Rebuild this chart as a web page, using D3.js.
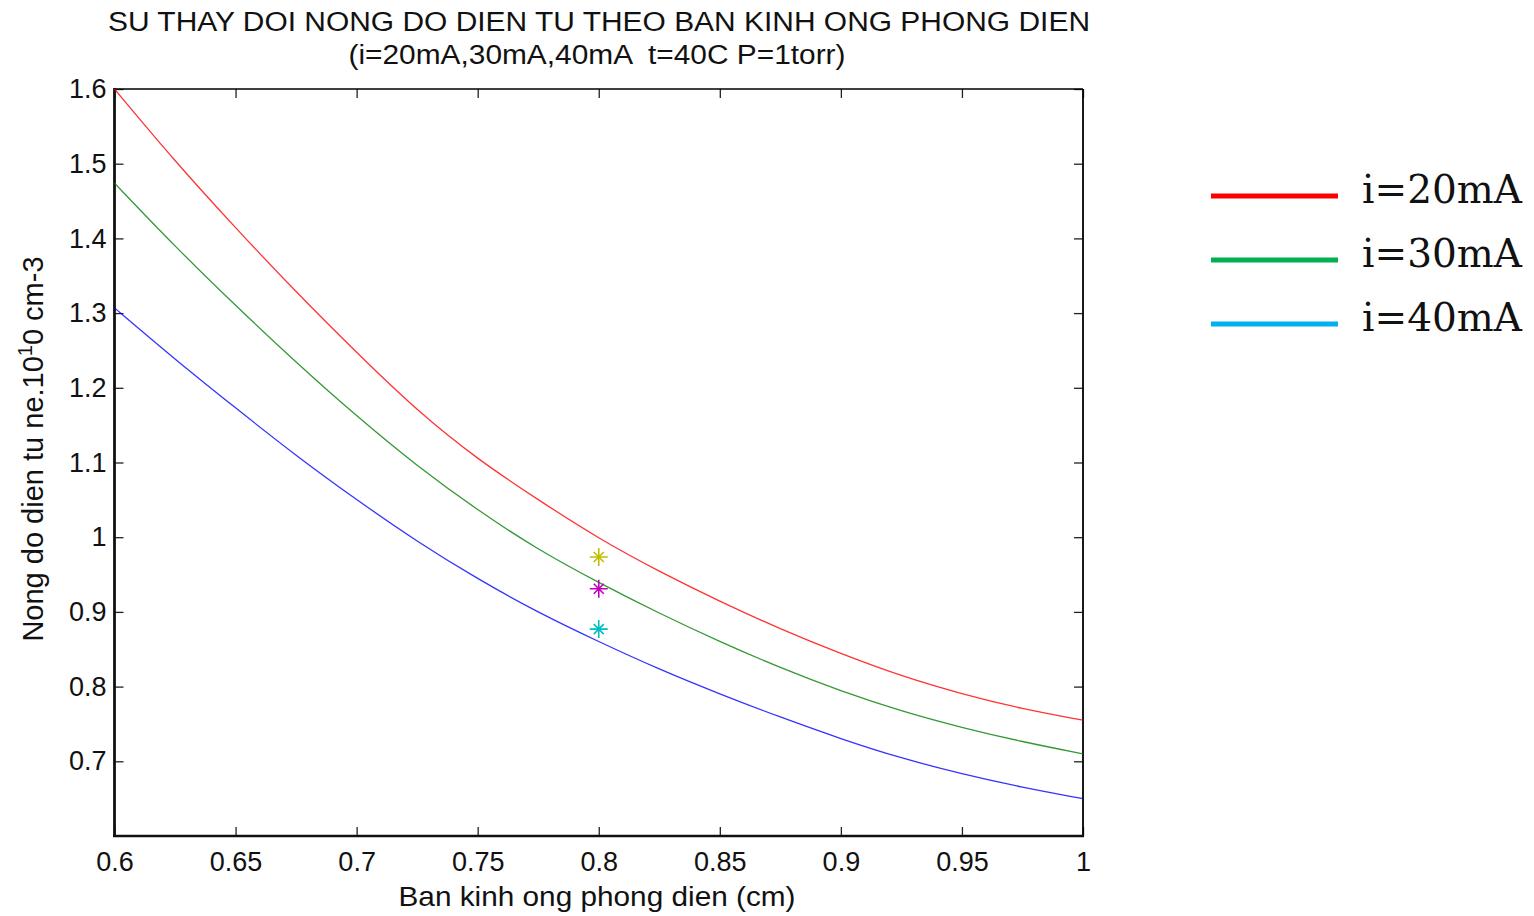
<!DOCTYPE html>
<html>
<head>
<meta charset="utf-8">
<script src="https://cdn.jsdelivr.net/npm/d3@7"></script>
<style>
  body { margin: 0; background: #fff; }
  svg { display: block; }
  .tick text { font-family: "Liberation Sans", Arial, sans-serif; font-size: 27px; fill: #111; }
</style>
</head>
<body>
<svg width="1534" height="916"></svg>
<script>
// radius (cm) and electron density (10^10 cm^-3)
let radius = [0.6, 0.625, 0.65, 0.675, 0.7, 0.725, 0.75, 0.775, 0.8, 0.825, 0.85, 0.875, 0.9, 0.925, 0.95, 0.975, 1.0];
let ne20 = [1.600, 1.503, 1.414, 1.328, 1.247, 1.169, 1.104, 1.050, 0.998, 0.954, 0.914, 0.877, 0.844, 0.814, 0.790, 0.770, 0.755];
let ne30 = [1.474, 1.389, 1.310, 1.234, 1.162, 1.095, 1.036, 0.983, 0.939, 0.898, 0.860, 0.825, 0.794, 0.767, 0.745, 0.726, 0.710];
let ne40 = [1.307, 1.238, 1.173, 1.109, 1.050, 0.994, 0.944, 0.899, 0.860, 0.823, 0.790, 0.759, 0.730, 0.704, 0.683, 0.665, 0.650];

// measured points at r = 0.8 cm
let markX = [0.8, 0.8, 0.8];
let markY = [0.9735, 0.931, 0.877];
let markColors = ["#bfbf00", "#bf00bf", "#00bfbf"];

let seriesNames = ["i=20mA", "i=30mA", "i=40mA"];
let lineColors = ["#ff0000", "#008000", "#0000ff"];
let legendColors = ["#ff0000", "#00b050", "#00b0f0"];

let xTicks = [0.6, 0.65, 0.7, 0.75, 0.8, 0.85, 0.9, 0.95, 1];
let yTicks = [0.7, 0.8, 0.9, 1, 1.1, 1.2, 1.3, 1.4, 1.5, 1.6];

let svg = d3.select("svg");

let x = d3.scaleLinear().domain([0.6, 1]).range([114.5, 1083]);
let y = d3.scaleLinear().domain([0.6, 1.6]).range([836, 89]);

let fmt = d => String(+d.toFixed(2));

// axes, ticks pointing inward like matlab
svg.append("g")
  .attr("transform", "translate(0,836)")
  .call(d3.axisBottom(x).tickValues(xTicks).tickFormat(fmt).tickSizeInner(-9).tickSizeOuter(0).tickPadding(16));
svg.append("g")
  .attr("transform", "translate(0,89)")
  .call(d3.axisTop(x).tickValues(xTicks).tickFormat("").tickSizeInner(-9).tickSizeOuter(0));
svg.append("g")
  .attr("transform", "translate(114.5,0)")
  .call(d3.axisLeft(y).tickValues(yTicks).tickFormat(fmt).tickSizeInner(-9).tickSizeOuter(0).tickPadding(8));
svg.append("g")
  .attr("transform", "translate(1083,0)")
  .call(d3.axisRight(y).tickValues(yTicks).tickFormat("").tickSizeInner(-9).tickSizeOuter(0));

svg.selectAll(".domain").remove();
svg.selectAll(".tick line").attr("stroke", "#222").attr("stroke-width", 1.3);

// box
svg.append("line").attr("x1", 114.5).attr("x2", 1083).attr("y1", 89).attr("y2", 89)
  .attr("stroke", "#000").attr("stroke-width", 1.5);
svg.append("line").attr("x1", 1083).attr("x2", 1083).attr("y1", 89).attr("y2", 836)
  .attr("stroke", "#000").attr("stroke-width", 1.8);
svg.append("line").attr("x1", 113).attr("x2", 1084).attr("y1", 836).attr("y2", 836)
  .attr("stroke", "#111").attr("stroke-width", 2.6);
svg.append("line").attr("x1", 114.5).attr("x2", 114.5).attr("y1", 88).attr("y2", 837)
  .attr("stroke", "#111").attr("stroke-width", 2.8);

// curves
let line = d3.line()
  .x(d => x(d[0]))
  .y(d => y(d[1]))
  .curve(d3.curveBasis);

[ne20, ne30, ne40].forEach((vals, i) => {
  svg.append("path")
    .datum(radius.map((r, j) => [r, vals[j]]))
    .attr("d", line)
    .attr("fill", "none")
    .attr("stroke", lineColors[i])
    .attr("stroke-opacity", 0.8)
    .attr("stroke-width", 1.3);
});

// asterisk markers
let star = "M0,-9V9M-9,0H9M-5,-5L5,5M-5,5L5,-5";
svg.selectAll("path.mark")
  .data(markY)
  .join("path")
    .attr("class", "mark")
    .attr("transform", (d, i) => `translate(${x(markX[i])},${y(d)})`)
    .attr("d", star)
    .attr("stroke", (d, i) => markColors[i])
    .attr("stroke-width", 1.6)
    .attr("fill", "none");

// titles
let sans = "'Liberation Sans', Arial, sans-serif";
svg.append("text")
  .attr("x", 599).attr("y", 31)
  .attr("text-anchor", "middle")
  .attr("font-family", sans).attr("font-size", 27).attr("fill", "#111")
  .attr("textLength", 982).attr("lengthAdjust", "spacingAndGlyphs")
  .text("SU THAY DOI NONG DO DIEN TU THEO BAN KINH ONG PHONG DIEN");
svg.append("text")
  .attr("x", 597).attr("y", 64)
  .attr("text-anchor", "middle")
  .attr("font-family", sans).attr("font-size", 27).attr("fill", "#111")
  .attr("xml:space", "preserve")
  .attr("textLength", 497).attr("lengthAdjust", "spacingAndGlyphs")
  .text("(i=20mA,30mA,40mA  t=40C P=1torr)");

svg.append("text")
  .attr("x", 597).attr("y", 906)
  .attr("text-anchor", "middle")
  .attr("font-family", sans).attr("font-size", 28).attr("fill", "#111")
  .attr("textLength", 397).attr("lengthAdjust", "spacingAndGlyphs")
  .text("Ban kinh ong phong dien (cm)");

let ylab = svg.append("text")
  .attr("transform", "translate(43,449) rotate(-90)")
  .attr("text-anchor", "middle")
  .attr("font-family", sans).attr("font-size", 29).attr("fill", "#111");
ylab.append("tspan").text("Nong do dien tu ne.10");
ylab.append("tspan").attr("dy", -11).attr("font-size", 20).text("1");
ylab.append("tspan").attr("dy", 11).text("0 cm-3");

// legend
let legendY = [196, 260, 324];
let lg = svg.append("g");
lg.selectAll("line")
  .data(seriesNames)
  .join("line")
    .attr("x1", 1211).attr("x2", 1338)
    .attr("y1", (d, i) => legendY[i]).attr("y2", (d, i) => legendY[i])
    .attr("stroke", (d, i) => legendColors[i])
    .attr("stroke-width", 5);
lg.selectAll("text")
  .data(seriesNames)
  .join("text")
    .attr("x", 1362)
    .attr("y", (d, i) => legendY[i] + 7)
    .attr("font-family", "'DejaVu Serif', serif")
    .attr("font-size", 39)
    .attr("fill", "#111")
    .text(d => d);
</script>
</body>
</html>
